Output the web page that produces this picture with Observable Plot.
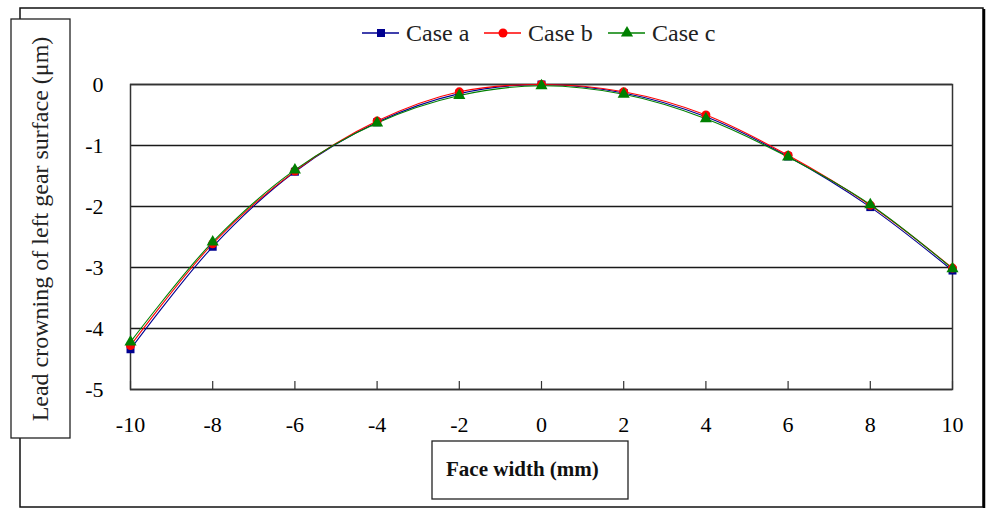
<!DOCTYPE html>
<html>
<head>
<meta charset="utf-8">
<script src="https://cdn.jsdelivr.net/npm/d3@7"></script>
<script src="https://cdn.jsdelivr.net/npm/@observablehq/plot@0.6"></script>
<style>
  html, body { margin: 0; padding: 0; background: white; }
  #chart { position: relative; width: 987px; height: 511px; }
</style>
</head>
<body>
<div id="chart"></div>
<script>
const xValues = [-10, -8, -6, -4, -2, 0, 2, 4, 6, 8, 10];
const caseA = [-4.34, -2.66, -1.43, -0.62, -0.15, 0, -0.14, -0.53, -1.18, -2.01, -3.05];
const caseB = [-4.28, -2.61, -1.42, -0.60, -0.12, 0, -0.12, -0.50, -1.16, -1.98, -3.01];
const caseC = [-4.22, -2.58, -1.40, -0.63, -0.18, -0.02, -0.16, -0.56, -1.19, -1.97, -3.02];
const seriesNames = ["Case a", "Case b", "Case c"];
const seriesColors = ["#000090", "#ff0000", "#008000"];
const seriesSymbols = ["square", "circle", "triangle"];
const xTicks = [-10, -8, -6, -4, -2, 0, 2, 4, 6, 8, 10];
const yTicks = [0, -1, -2, -3, -4, -5];
const xTitle = "Face width (mm)";
const yTitle = "Lead crowning of left gear surface (μm)";

const rows = [];
[caseA, caseB, caseC].forEach((vals, i) => {
  vals.forEach((v, j) => rows.push({series: seriesNames[i], x: xValues[j], y: v}));
});

const serif = "'Liberation Serif', 'Times New Roman', serif";

const svg = Plot.plot({
  width: 987,
  height: 511,
  marginLeft: 130,
  marginRight: 35,
  marginTop: 84,
  marginBottom: 122,
  style: {fontFamily: serif, fontSize: "22px", color: "black", background: "white"},
  x: {domain: [-10, 10], ticks: xTicks},
  y: {domain: [-5, 0], ticks: yTicks},
  color: {domain: seriesNames, range: seriesColors},
  symbol: {domain: seriesNames, range: seriesSymbols},
  marks: [
    Plot.gridY(yTicks, {stroke: "#1a1a1a", strokeOpacity: 1, strokeWidth: 1.5}),
    Plot.frame({stroke: "#333", strokeWidth: 1.5}),
    Plot.axisY({ticks: yTicks, tickSize: 0, tickPadding: 27, label: null, tickFormat: d => String(d), fontSize: 22}),
    Plot.axisX({ticks: xTicks, tickSize: 0, tickPadding: 27, label: null, tickFormat: d => String(d), fontSize: 22}),
    Plot.ruleX(xTicks, {x: d => d, y1: -5, y2: -5 + 8 / 61, stroke: "#333", strokeWidth: 1.2}),
    Plot.line(rows, {x: "x", y: "y", z: "series", stroke: "series", curve: "catmull-rom", strokeWidth: 1.1}),
    Plot.dot(rows, {x: "x", y: "y", fill: "series", symbol: "series", r: 4.5})
  ]
});

document.getElementById("chart").appendChild(svg);
const s = d3.select(svg);

// outer frame (behind everything)
s.insert("rect", ":first-child")
  .attr("x", 20).attr("y", 8).attr("width", 963).attr("height", 499)
  .attr("fill", "white").attr("stroke", "#111").attr("stroke-width", 1.5);
s.append("line").attr("x1", 984).attr("x2", 984).attr("y1", 9).attr("y2", 508)
  .attr("stroke", "#000").attr("stroke-width", 2.5);

// y title box
s.append("rect").attr("x", 11).attr("y", 19).attr("width", 59).attr("height", 419)
  .attr("fill", "white").attr("stroke", "#222").attr("stroke-width", 1.3);
s.append("text")
  .attr("transform", "translate(48,229) rotate(-90)")
  .attr("text-anchor", "middle")
  .attr("font-family", serif).attr("font-size", 24).attr("fill", "#222")
  .text(yTitle);

// x title box
s.append("rect").attr("x", 432).attr("y", 441).attr("width", 196).attr("height", 58)
  .attr("fill", "white").attr("stroke", "#222").attr("stroke-width", 1.3);
s.append("text")
  .attr("x", 446).attr("y", 476)
  .attr("text-anchor", "start")
  .attr("font-family", serif).attr("font-size", 21).attr("font-weight", "bold").attr("fill", "#111")
  .text(xTitle);

// legend
const legendX = [362, 484, 608];
seriesNames.forEach((name, i) => {
  const x0 = legendX[i];
  const g = s.append("g");
  g.append("line").attr("x1", x0).attr("x2", x0 + 37).attr("y1", 33).attr("y2", 33)
    .attr("stroke", seriesColors[i]).attr("stroke-width", 1.3);
  const sym = [d3.symbolSquare, d3.symbolCircle, d3.symbolTriangle][i];
  g.append("path").attr("d", d3.symbol(sym, 64)())
    .attr("transform", `translate(${x0 + 19},33)`).attr("fill", seriesColors[i]);
  g.append("text").attr("x", x0 + 44).attr("y", 41)
    .attr("text-anchor", "start")
    .attr("font-family", serif).attr("font-size", 24).attr("fill", "#222")
    .text(name);
});
</script>
</body>
</html>
